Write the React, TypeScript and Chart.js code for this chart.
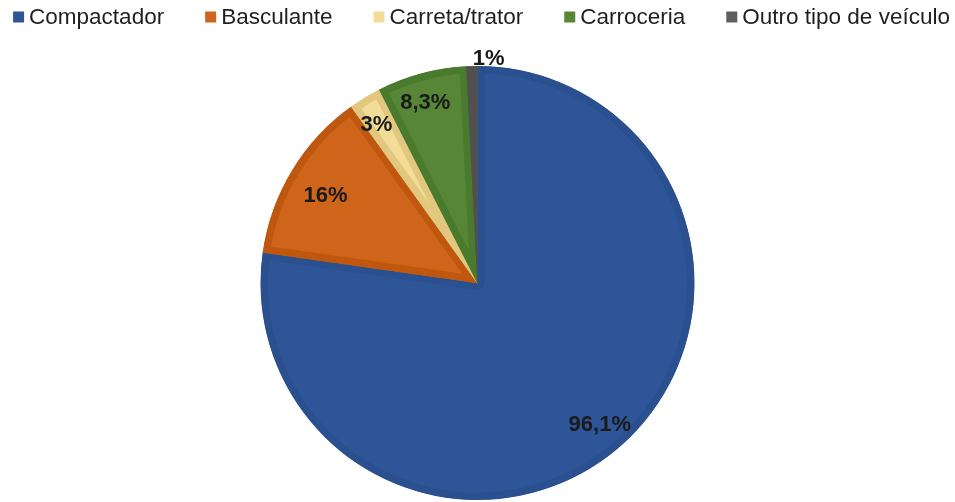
import React, { useEffect, useRef } from "react";
import { Chart, registerables } from "chart.js";

Chart.register(...registerables);

const categories = ["Compactador", "Basculante", "Carreta/trator", "Carroceria", "Outro tipo de veículo"];
const values = [96.1, 16, 3, 8.3, 1];
const valueLabels = ["96,1%", "16%", "3%", "8,3%", "1%"];
const fillColors = ["#2E5597", "#CF651A", "#F3DC98", "#568636", "#5E5E5E"];
const borderColors = ["#2B508F", "#C0570F", "#E2C77E", "#4A7A2D", "#505050"];

// label placement: radial factor and angular tweak (radians) per slice
const labelRadial = [0.86, 0.81, 0.87, 0.87, 1.04];
const labelAngleShift = [0, -0.02, -0.02, -0.02, 0.075];

const labelsPlugin = {
  id: "sliceLabels",
  afterDatasetsDraw(chart: any) {
    const ctx = chart.ctx;
    const meta = chart.getDatasetMeta(0);
    ctx.save();
    ctx.font = "bold 22px 'Liberation Sans', Arial, sans-serif";
    ctx.fillStyle = "#1A1A1A";
    ctx.textAlign = "center";
    ctx.textBaseline = "middle";
    meta.data.forEach((arc: any, i: number) => {
      const p = arc.getProps(["x", "y", "startAngle", "endAngle", "outerRadius"], true);
      const mid = (p.startAngle + p.endAngle) / 2 + labelAngleShift[i];
      const r = p.outerRadius * labelRadial[i];
      ctx.fillText(valueLabels[i], p.x + Math.cos(mid) * r, p.y + Math.sin(mid) * r + 1);
    });
    ctx.restore();
  },
};

const legendPlugin = {
  id: "topLegend",
  afterDraw(chart: any) {
    const ctx = chart.ctx;
    const box = 11;
    const boxGap = 5;
    const itemGap = 41;
    ctx.save();
    ctx.font = "22.5px 'Liberation Sans', Arial, sans-serif";
    const widths = categories.map((c) => ctx.measureText(c).width);
    const total = widths.reduce((a, w) => a + box + boxGap + w, 0) + itemGap * (categories.length - 1);
    let x = (chart.width - total) / 2 + 4;
    const cy = 17;
    ctx.textBaseline = "middle";
    ctx.textAlign = "left";
    categories.forEach((c, i) => {
      ctx.fillStyle = fillColors[i];
      ctx.fillRect(x, cy - box / 2, box, box);
      ctx.fillStyle = "#1F1F1F";
      ctx.fillText(c, x + box + boxGap, cy + 1);
      x += box + boxGap + widths[i] + itemGap;
    });
    ctx.restore();
  },
};

export default function App() {
  const ref = useRef<HTMLCanvasElement>(null);
  useEffect(() => {
    if (!ref.current) return;
    const chart = new Chart(ref.current, {
      type: "pie",
      data: {
        labels: categories,
        datasets: [
          {
            data: values,
            backgroundColor: fillColors,
            borderColor: borderColors,
            borderWidth: 7,
            borderAlign: "inner",
            hoverBorderWidth: 7,
          } as any,
        ],
      },
      options: {
        animation: false,
        responsive: true,
        maintainAspectRatio: false,
        layout: { padding: { top: 66, bottom: 2, left: 0, right: 0 } },
        plugins: {
          legend: { display: false },
          tooltip: { enabled: false },
        },
      },
      plugins: [labelsPlugin, legendPlugin],
    });
    return () => chart.destroy();
  }, []);
  return (
    <div style={{ position: "fixed", left: 0, top: 0, width: 955, height: 502, background: "#fff" }}>
      <canvas ref={ref} />
    </div>
  );
}
